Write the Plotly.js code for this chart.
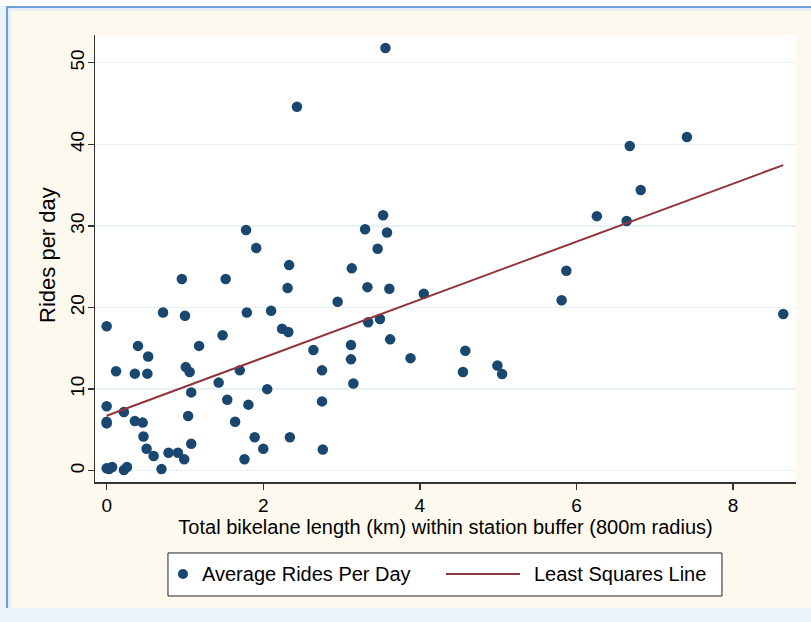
<!DOCTYPE html>
<html>
<head>
<meta charset="utf-8">
<script src="https://cdn.plot.ly/plotly-3.0.1.min.js"></script>
<style>
  html, body { margin:0; padding:0; width:811px; height:622px; overflow:hidden; background:#EAF3F9; }
  #topstrip { position:absolute; left:0; top:0; width:811px; height:6px; background:#ffffff; }
  #frame { position:absolute; left:6px; top:6px; width:805px; height:602px; background:#FEF9EE;
           border-left:2px solid #6E9FD9; border-top:2px solid #6E9FD9; box-sizing:border-box;
           box-shadow: inset 3px 3px 0 #E4EEF6; }
  #chart { position:absolute; left:0; top:0; width:811px; height:622px; }
</style>
</head>
<body>
<div id="topstrip"></div>
<div id="frame"></div>
<div id="chart"></div>
<script>
// Total bikelane length (km) within station buffer
const bikelaneKm = [
  0, 0, 0, 0, 0, 0.03, 0.07, 0.12, 0.22, 0.22, 0.26, 0.36, 0.40, 0.36, 0.46, 0.47, 0.51,
  0.52, 0.53, 0.60, 0.70, 0.72, 0.79, 0.91, 0.96, 0.99, 1.00, 1.01, 1.06, 1.04, 1.08,
  1.08, 1.18, 1.43, 1.48, 1.52, 1.54, 1.64, 1.70, 1.76, 1.78, 1.79, 1.81, 1.89, 1.91,
  2.00, 2.05, 2.10, 2.24, 2.32, 2.31, 2.33, 2.34, 2.43, 2.64, 2.75, 2.75, 2.76, 2.95,
  3.12, 3.12, 3.15, 3.13, 3.30, 3.33, 3.34, 3.46, 3.49, 3.53, 3.56, 3.58, 3.61, 3.62,
  3.88, 4.05, 4.55, 4.58, 4.99, 5.05, 5.81, 5.87, 6.26, 6.64, 6.68, 6.82, 7.41, 8.64
];
// Average rides per day
const ridesPerDay = [
  17.7, 7.9, 6.0, 5.8, 0.3, 0.2, 0.45, 12.2, 7.2, 0.1, 0.45, 11.9, 15.3, 6.1, 5.9, 4.2, 2.7,
  11.9, 14.0, 1.8, 0.2, 19.4, 2.2, 2.2, 23.5, 1.4, 19.0, 12.7, 12.1, 6.7, 9.6,
  3.3, 15.3, 10.8, 16.6, 23.5, 8.7, 6.0, 12.3, 1.4, 29.5, 19.4, 8.1, 4.1, 27.3,
  2.7, 10.0, 19.6, 17.4, 17.0, 22.4, 25.2, 4.1, 44.6, 14.8, 12.3, 8.5, 2.6, 20.7,
  15.4, 13.65, 10.7, 24.8, 29.6, 22.5, 18.2, 27.2, 18.6, 31.3, 51.8, 29.2, 22.3, 16.1,
  13.8, 21.7, 12.1, 14.7, 12.9, 11.85, 20.9, 24.5, 31.2, 30.6, 39.8, 34.4, 40.9, 19.2
];
// Least squares fitted line (endpoints)
const fitX = [0, 8.64];
const fitY = [6.74, 37.46];

const xTicks = [0, 2, 4, 6, 8];
const yTicks = [0, 10, 20, 30, 40, 50];
const legendLabels = ['Average Rides Per Day', 'Least Squares Line'];
const xTitle = 'Total bikelane length (km) within station buffer (800m radius)';
const yTitle = 'Rides per day';

const markerColor = '#1A476F';
const lineColor = '#90353B';

const data = [
  { type:'scatter', mode:'markers', x:bikelaneKm, y:ridesPerDay, name:legendLabels[0],
    marker:{ color:markerColor, size:10.5 } },
  { type:'scatter', mode:'lines', x:fitX, y:fitY, name:legendLabels[1],
    line:{ color:lineColor, width:2 } }
];

const fam = 'Liberation Sans, Arial, sans-serif';
const tickFont = { family:fam, size:19, color:'#000' };
const xTitleFont = { family:fam, size:20, color:'#000' };
const yTitleFont = { family:fam, size:22, color:'#000' };
const legFont = { family:fam, size:20, color:'#000' };

// legend geometry in paper units (plot area: x 95..796 px, y 35..482 px)
const legY = -0.2058;

const layout = {
  width:811, height:622,
  paper_bgcolor:'rgba(0,0,0,0)', plot_bgcolor:'#ffffff',
  margin:{ l:95, r:15, t:35, b:140 },
  showlegend:false,
  font: tickFont,
  xaxis:{
    range:[-0.149, 8.803], tickvals:xTicks, ticktext:xTicks.map(String),
    showgrid:false, zeroline:false, showline:true, linecolor:'#333', linewidth:1.5,
    ticks:'outside', ticklen:6, tickcolor:'#333', tickwidth:1.5, tickfont:tickFont,
    title:{ text:xTitle, font:xTitleFont, standoff:2 }
  },
  yaxis:{
    range:[-1.38, 53.4], tickvals:yTicks, ticktext:yTicks.map(String), tickangle:-90,
    ticklabelstandoff:-4,
    showgrid:true, gridcolor:'#E8F1F4', gridwidth:1.5, zeroline:false,
    showline:true, linecolor:'#333', linewidth:1.5,
    ticks:'outside', ticklen:6, tickcolor:'#333', tickwidth:1.5, tickfont:tickFont
  },
  shapes:[
    { type:'rect', xref:'paper', yref:'paper', x0:0.1041, x1:0.8944, y0:-0.2550, y1:-0.1588,
      fillcolor:'#ffffff', line:{ color:'#222', width:1 } },
    { type:'circle', xref:'paper', yref:'paper', xsizemode:'pixel', ysizemode:'pixel',
      xanchor:0.1255, yanchor:legY, x0:-5, x1:5, y0:-5, y1:5,
      fillcolor:markerColor, line:{ width:0 } },
    { type:'line', xref:'paper', yref:'paper', x0:0.5007, x1:0.6063, y0:legY, y1:legY,
      line:{ color:lineColor, width:2 } }
  ],
  annotations:[
    { xref:'paper', yref:'paper', x:-0.067, y:0.508, xanchor:'center', yanchor:'middle',
      text:yTitle, textangle:-90, showarrow:false, font:yTitleFont },
    { xref:'paper', yref:'paper', x:0.1498, y:legY, xanchor:'left', yanchor:'middle',
      text:legendLabels[0], showarrow:false, font:legFont },
    { xref:'paper', yref:'paper', x:0.6234, y:legY, xanchor:'left', yanchor:'middle',
      text:legendLabels[1], showarrow:false, font:legFont }
  ]
};

Plotly.newPlot('chart', data, layout, { displayModeBar:false, staticPlot:true });
</script>
</body>
</html>
